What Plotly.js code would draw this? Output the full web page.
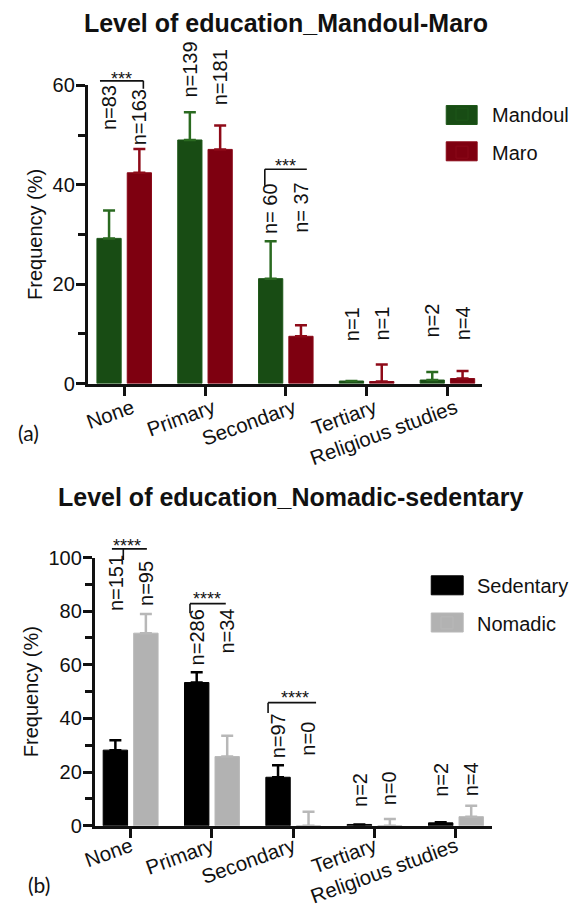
<!DOCTYPE html>
<html>
<head>
<meta charset="utf-8">
<script src="https://cdn.plot.ly/plotly-3.0.1.min.js"></script>
<style>html,body{margin:0;padding:0;background:#fff;}#chart{width:574px;height:909px;}</style>
</head>
<body>
<div id="chart"></div>
<script>
// ---------- data ----------
const categories = ['None', 'Primary', 'Secondary', 'Tertiary', 'Religious studies'];

// Panel (a): Mandoul vs Maro
const mandoulFreq   = [29.2, 49.0, 21.1, 0.5, 0.7];
const mandoulErrTop = [34.8, 54.6, 28.6, 0.5, 2.3];
const maroFreq      = [42.4, 47.1, 9.5, 0.4, 1.0];
const maroErrTop    = [47.2, 51.9, 11.7, 3.8, 2.5];
const mandoulN      = ['n=83', 'n=139', 'n= 60', 'n=1', 'n=2'];
const maroN         = ['n=163', 'n=181', 'n= 37', 'n=1', 'n=4'];
const mandoulNAt    = [50.7, 57.3, 29.9, 8.4, 9.1];
const maroNAt       = [47.8, 55.8, 30.2, 8.4, 8.4];

// Panel (b): Sedentary vs Nomadic
const sedFreq       = [28.2, 53.4, 18.1, 0.5, 1.1];
const sedErrTop     = [31.9, 57.2, 22.6, 0.5, 1.3];
const nomFreq       = [71.8, 25.8, 0, 0, 3.4];
const nomErrTop     = [78.9, 33.6, 5.2, 2.5, 7.5];
const sedN          = ['n=151', 'n=286', 'n=97', 'n=2', 'n=2'];
const nomN          = ['n=95', 'n=34', 'n=0', 'n=0', 'n=4'];
const sedNAt        = [79.8, 59.3, 24.6, 6.8, 10.3];
const nomNAt        = [81.7, 63.7, 25.6, 7.2, 10.7];

// significance brackets: [category index, line height, star label]
const sigA = [[0, 60.9, '***'], [2, 43.1, '***']];
const sigB = [[0, 103.2, '****'], [1, 82.8, '****'], [2, 45.9, '****']];

// ---------- style ----------
const FONT = 'Liberation Sans, Arial, sans-serif';
const BARGAP = 0.25, BARGROUPGAP = 0.2;
const OFF = (1 - BARGAP) / 4;  // centre offset of each bar in a pair
const W = 574, H = 909;

const domA = {x: [88 / W, 483 / W], y: [1 - 383.5 / H, 1 - 85.3 / H], xr: [-0.45, 4.43], yr: [0, 60]};
const domB = {x: [95 / W, 492.6 / W], y: [1 - 825.8 / H, 1 - 557.5 / H], xr: [-0.44, 4.44], yr: [0, 100]};

const colA = [{fill: '#184c14', edge: '#1d5718', err: '#2a6a20'}, {fill: '#7e0010', edge: '#8a0818', err: '#8e0a18'}];
const colB = [{fill: '#000000', edge: '#000000', err: '#000000'}, {fill: '#b2b2b2', edge: '#b8b8b8', err: '#b8b8b8'}];

// bracket geometry (offsets in category units)
const brA = [
  {x0: -0.30, x1: 0.237, tx: 0.237, ty: 59.3, sx: -0.03, sy: 62.1},
  {x0: -0.26, x1: 0.26, tx: -0.26, ty: 39.8, sx: 0.0, sy: 44.6}
];
const brB = [
  {x0: -0.23, x1: 0.20, tx: -0.09, ty: 99.1, sx: -0.04, sy: 105.9},
  {x0: -0.27, x1: 0.17, tx: -0.27, ty: 79.2, sx: -0.06, sy: 86.0},
  {x0: -0.31, x1: 0.28, tx: -0.31, ty: 42.0, sx: 0.02, sy: 49.1}
];

function yToPaper(v, d) { return d.y[0] + (v - d.yr[0]) / (d.yr[1] - d.yr[0]) * (d.y[1] - d.y[0]); }
function plusErr(top, val) { return top.map((t, i) => Math.max(0, t - val[i])); }

function barTrace(name, y, errTop, c, xa, ya, leg) {
  return {
    type: 'bar', name: name, x: categories, y: y,
    xaxis: xa, yaxis: ya, legend: leg, legendgroup: name,
    marker: {color: c.fill, line: {color: c.edge, width: 1}},
    error_y: {type: 'data', symmetric: false, array: plusErr(errTop, y),
              arrayminus: y.map(() => 0), color: c.err, thickness: 2.5, width: 6},
    hoverinfo: 'x+y'
  };
}

const traces = [
  barTrace('Mandoul', mandoulFreq, mandoulErrTop, colA[0], 'x', 'y', 'legend'),
  barTrace('Maro', maroFreq, maroErrTop, colA[1], 'x', 'y', 'legend'),
  barTrace('Sedentary', sedFreq, sedErrTop, colB[0], 'x2', 'y2', 'legend2'),
  barTrace('Nomadic', nomFreq, nomErrTop, colB[1], 'x2', 'y2', 'legend2')
];

const annotations = [];
const shapes = [];

function nLabels(labels, at, side, xr, d) {
  labels.forEach((t, i) => {
    annotations.push({
      text: t, x: i + side * OFF, y: yToPaper(at[i], d), xref: xr, yref: 'paper',
      textangle: -90, xanchor: 'center', yanchor: 'bottom', showarrow: false,
      borderpad: 0, font: {family: FONT, size: 20, color: '#111'}
    });
  });
}
nLabels(mandoulN, mandoulNAt, -1, 'x', domA);
nLabels(maroN, maroNAt, 1, 'x', domA);
nLabels(sedN, sedNAt, -1, 'x2', domB);
nLabels(nomN, nomNAt, 1, 'x2', domB);

// brackets: x in category units, y converted to paper so they are not clipped
function brackets(sig, geo, xr, d) {
  sig.forEach((s, k) => {
    const c = s[0], h = yToPaper(s[1], d), g = geo[k];
    shapes.push({type: 'line', xref: xr, yref: 'paper', x0: c + g.x0, x1: c + g.x1, y0: h, y1: h,
                 line: {color: '#111', width: 1.6}});
    shapes.push({type: 'line', xref: xr, yref: 'paper', x0: c + g.tx, x1: c + g.tx, y0: h, y1: yToPaper(g.ty, d),
                 line: {color: '#111', width: 1.6}});
    annotations.push({text: s[2], x: c + g.sx, y: yToPaper(g.sy, d), xref: xr, yref: 'paper', showarrow: false,
                      xanchor: 'center', yanchor: 'middle', yshift: -4,
                      font: {family: FONT, size: 18, color: '#111'}});
  });
}
brackets(sigA, brA, 'x', domA);
brackets(sigB, brB, 'x2', domB);

// enlarged legend keys (behind the legend's own symbols)
function legendKeys(x0, x1, centers, cols) {
  centers.forEach((cy, i) => {
    shapes.push({type: 'rect', xref: 'paper', yref: 'paper', layer: 'above',
                 x0: x0 / W, x1: x1 / W, y0: 1 - (cy + 9.5) / H, y1: 1 - (cy - 9.5) / H,
                 fillcolor: cols[i].fill, line: {color: cols[i].edge, width: 1}});
  });
}
legendKeys(447, 478, [115, 151.3], colA);
legendKeys(432, 464, [585.3, 622.5], colB);

// second title and panel tags
annotations.push({text: '<b>Level of education_Nomadic-sedentary</b>', xref: 'paper', yref: 'paper',
                  x: 292 / W, y: 1 - 497 / H, xanchor: 'center', yanchor: 'middle', showarrow: false,
                  font: {family: FONT, size: 25, color: '#111'}});
annotations.push({text: '(a)', xref: 'paper', yref: 'paper', x: 28.5 / W, y: 1 - 433 / H,
                  xanchor: 'center', yanchor: 'middle', showarrow: false,
                  font: {family: 'Lato, sans-serif', size: 21, color: '#111'}});
annotations.push({text: '(b)', xref: 'paper', yref: 'paper', x: 39.5 / W, y: 1 - 884 / H,
                  xanchor: 'center', yanchor: 'middle', showarrow: false,
                  font: {family: 'Lato, sans-serif', size: 21, color: '#111'}});

function xAxis(d, anchor, shift, standoff) {
  return {domain: d.x, range: d.xr, type: 'category', anchor: anchor,
          showline: true, linecolor: '#111', linewidth: 3,
          ticks: 'outside', ticklen: 9, tickwidth: 3, tickcolor: '#111',
          tickangle: -20, ticklabelshift: shift, ticklabelstandoff: standoff,
          tickfont: {family: FONT, size: 20.5, color: '#111'},
          showgrid: false, zeroline: false, fixedrange: true};
}
function yAxis(d, dtick, anchor) {
  return {domain: d.y, range: d.yr, anchor: anchor, dtick: dtick,
          showline: true, linecolor: '#111', linewidth: 3,
          ticks: 'outside', ticklen: 9, tickwidth: 3, tickcolor: '#111',
          ticklabelstandoff: -3,
          minor: {dtick: dtick / 2, ticks: 'outside', ticklen: 7, tickwidth: 3, tickcolor: '#111', showgrid: false},
          tickfont: {family: FONT, size: 20, color: '#111'},
          title: {text: 'Frequency (%)', font: {family: FONT, size: 20, color: '#111'}, standoff: 5},
          showgrid: false, zeroline: false, fixedrange: true};
}

const layout = {
  width: W, height: H,
  margin: {l: 0, r: 0, t: 0, b: 0},
  paper_bgcolor: '#fff', plot_bgcolor: 'rgba(0,0,0,0)',
  font: {family: FONT, color: '#111'},
  barmode: 'group', bargap: BARGAP, bargroupgap: BARGROUPGAP,
  title: {text: '<b>Level of education_Mandoul-Maro</b>', x: 286.5 / W, y: 1 - 23 / H,
          xanchor: 'center', yanchor: 'middle', xref: 'paper', yref: 'container',
          font: {family: FONT, size: 25, color: '#111'}},
  xaxis: xAxis(domA, 'y', 8, -7),
  yaxis: yAxis(domA, 20, 'x'),
  xaxis2: xAxis(domB, 'y2', 0, -11),
  yaxis2: yAxis(domB, 20, 'x2'),
  legend: {x: 432.6 / W, xanchor: 'left', y: 1 - 133.2 / H, yanchor: 'middle', itemwidth: 50,
           font: {family: FONT, size: 20, color: '#111'}, tracegroupgap: 9,
           bgcolor: 'rgba(0,0,0,0)', traceorder: 'grouped'},
  legend2: {x: 418 / W, xanchor: 'left', y: 1 - 603.9 / H, yanchor: 'middle', itemwidth: 50,
            font: {family: FONT, size: 20, color: '#111'}, tracegroupgap: 9,
            bgcolor: 'rgba(0,0,0,0)', traceorder: 'grouped'},
  showlegend: true,
  annotations: annotations,
  shapes: shapes
};

Plotly.newPlot('chart', traces, layout, {displayModeBar: false, staticPlot: true});
</script>
</body>
</html>
